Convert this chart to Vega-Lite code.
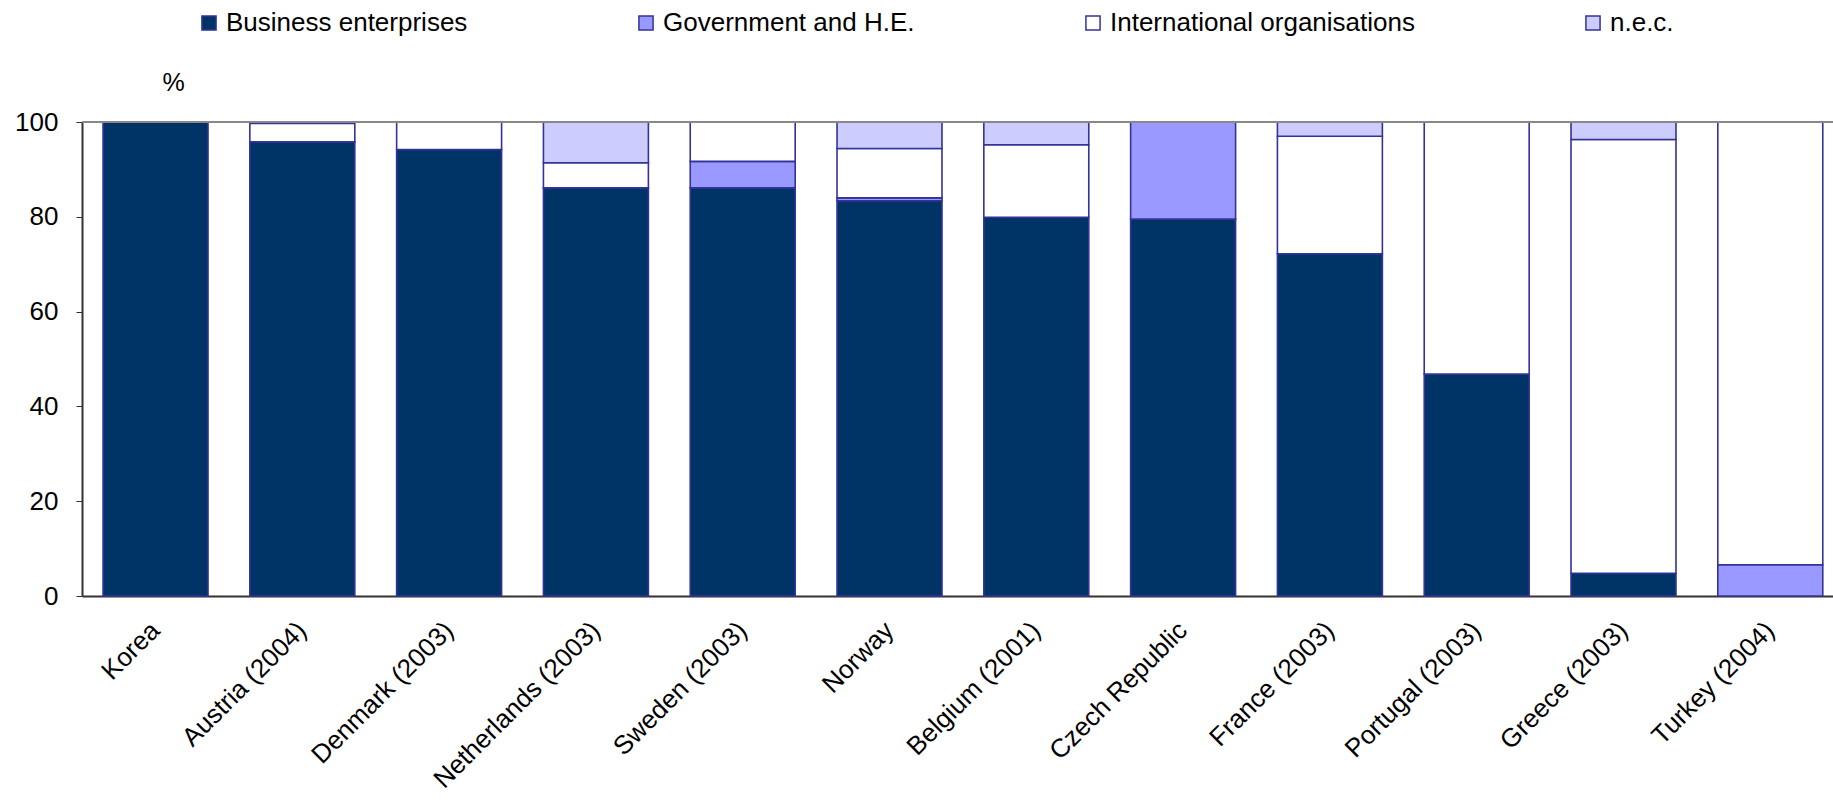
{
  "$schema": "https://vega.github.io/schema/vega-lite/v6.json",
  "width": 1751,
  "height": 474,
  "autosize": {"type": "none"},
  "padding": {"left": 82, "top": 122, "right": 0, "bottom": 209},
  "background": "#ffffff",
  "config": {
    "font": "Liberation Sans",
    "view": {"stroke": null},
    "axis": {"labelFont": "Liberation Sans", "titleFont": "Liberation Sans", "labelColor": "#000000", "titleColor": "#000000"},
    "legend": {"labelFont": "Liberation Sans"}
  },
  "data": {
    "values": [
      {"country": "Korea", "sector": "Business enterprises", "share": 100},
      {"country": "Austria (2004)", "sector": "Business enterprises", "share": 95.8},
      {"country": "Austria (2004)", "sector": "International organisations", "share": 3.9},
      {"country": "Denmark (2003)", "sector": "Business enterprises", "share": 94.2},
      {"country": "Denmark (2003)", "sector": "International organisations", "share": 5.8},
      {"country": "Netherlands (2003)", "sector": "Business enterprises", "share": 86.1},
      {"country": "Netherlands (2003)", "sector": "International organisations", "share": 5.3},
      {"country": "Netherlands (2003)", "sector": "n.e.c.", "share": 8.6},
      {"country": "Sweden (2003)", "sector": "Business enterprises", "share": 86.1},
      {"country": "Sweden (2003)", "sector": "Government and H.E.", "share": 5.6},
      {"country": "Sweden (2003)", "sector": "International organisations", "share": 8.3},
      {"country": "Norway", "sector": "Business enterprises", "share": 83.4},
      {"country": "Norway", "sector": "Government and H.E.", "share": 0.6},
      {"country": "Norway", "sector": "International organisations", "share": 10.4},
      {"country": "Norway", "sector": "n.e.c.", "share": 5.6},
      {"country": "Belgium (2001)", "sector": "Business enterprises", "share": 79.9},
      {"country": "Belgium (2001)", "sector": "International organisations", "share": 15.3},
      {"country": "Belgium (2001)", "sector": "n.e.c.", "share": 4.8},
      {"country": "Czech Republic", "sector": "Business enterprises", "share": 79.5},
      {"country": "Czech Republic", "sector": "Government and H.E.", "share": 20.5},
      {"country": "France (2003)", "sector": "Business enterprises", "share": 72.2},
      {"country": "France (2003)", "sector": "International organisations", "share": 24.8},
      {"country": "France (2003)", "sector": "n.e.c.", "share": 3.0},
      {"country": "Portugal (2003)", "sector": "Business enterprises", "share": 46.8},
      {"country": "Portugal (2003)", "sector": "International organisations", "share": 53.2},
      {"country": "Greece (2003)", "sector": "Business enterprises", "share": 4.8},
      {"country": "Greece (2003)", "sector": "International organisations", "share": 91.5},
      {"country": "Greece (2003)", "sector": "n.e.c.", "share": 3.7},
      {"country": "Turkey (2004)", "sector": "Government and H.E.", "share": 6.6},
      {"country": "Turkey (2004)", "sector": "International organisations", "share": 93.4}
    ]
  },
  "layer": [
    {
      "mark": {"type": "bar", "stroke": "#333399", "strokeWidth": 1.6},
      "encoding": {
        "x": {
          "field": "country",
          "type": "nominal",
          "sort": null,
          "scale": {"paddingInner": 0.285, "paddingOuter": 0.1065, "align": 0.673},
          "axis": {
            "title": null,
            "labelAngle": -45,
            "labelAlign": "right",
            "labelBaseline": "middle",
            "labelFontSize": 26,
            "labelPadding": 30,
            "ticks": false,
            "domainColor": "#333333",
            "domainWidth": 2,
            "labelLimit": 400
          }
        },
        "y": {
          "field": "share",
          "type": "quantitative",
          "stack": "zero",
          "scale": {"domain": [0, 100], "nice": false},
          "axis": {
            "values": [0, 20, 40, 60, 80, 100],
            "grid": false,
            "title": "%",
            "titleAngle": 0,
            "titleX": 91,
            "titleY": -40,
            "titleAlign": "center",
            "titleBaseline": "middle",
            "titleFontSize": 25,
            "titleFontWeight": "normal",
            "labelFontSize": 26,
            "labelPadding": 18,
            "tickSize": 6,
            "tickColor": "#333333",
            "domainColor": "#333333",
            "domainWidth": 2
          }
        },
        "order": {"field": "sector", "type": "nominal", "sort": "ascending"},
        "color": {
          "field": "sector",
          "type": "nominal",
          "scale": {
            "domain": ["Business enterprises", "Government and H.E.", "International organisations", "n.e.c."],
            "range": ["#003366", "#9999ff", "#ffffff", "#ccccff"]
          },
          "legend": {
            "title": null,
            "orient": "none",
            "direction": "horizontal",
            "columns": 4,
            "legendX": 114,
            "legendY": -112,
            "padding": 0,
            "columnPadding": 165,
            "symbolType": "square",
            "symbolSize": 200,
            "symbolStrokeColor": "#333399",
            "symbolStrokeWidth": 1.5,
            "symbolOpacity": 1,
            "labelFontSize": 26,
            "labelColor": "#000000",
            "labelOffset": 4,
            "labelLimit": 400
          }
        }
      }
    },
    {
      "mark": {"type": "rule", "color": "#888888", "strokeWidth": 2},
      "encoding": {"y": {"datum": 100}}
    }
  ]
}
